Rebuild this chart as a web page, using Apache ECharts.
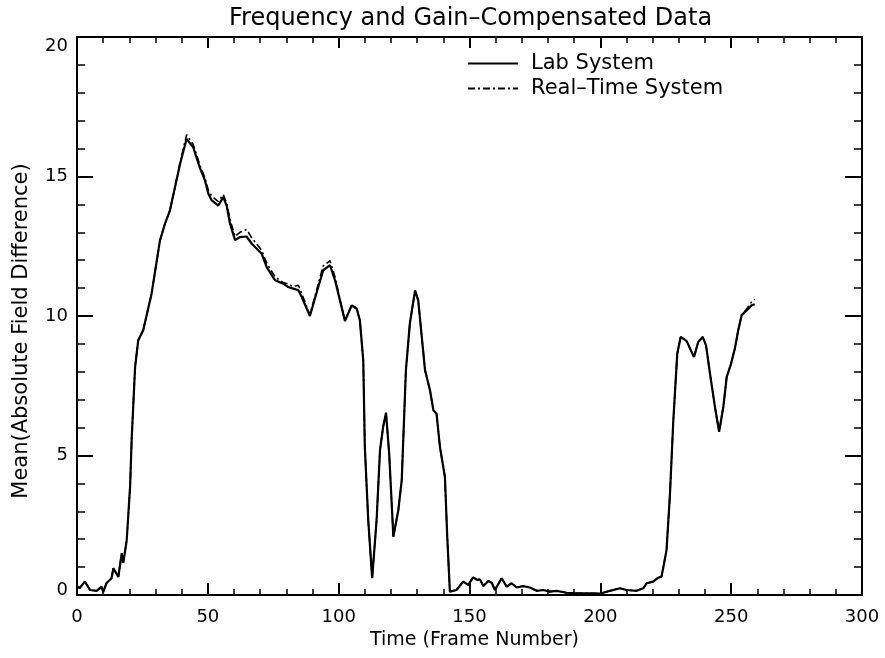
<!DOCTYPE html>
<html>
<head>
<meta charset="utf-8">
<script src="https://cdn.jsdelivr.net/npm/echarts@6/dist/echarts.min.js"></script>
<style>
html,body{margin:0;padding:0;background:#fff;}
#chart{width:885px;height:658px;}
</style>
</head>
<body>
<div id="chart"></div>
<script>
const titleText = 'Frequency and Gain–Compensated Data';
const xAxisName = 'Time (Frame Number)';
const yAxisName = 'Mean(Absolute Field Difference)';
const seriesNames = ['Lab System', 'Real–Time System'];

const frames = [
0,1,3,5,7.5,9.4,10,11.3,13.2,13.9,15.8,17.1,17.7,19,20.3,20.9,22.2,23.4,25.3,28.5,
31.7,33.6,35.5,37.4,39.4,41.9,44.4,47,48.9,50.2,51.5,54,55.9,57.2,58.5,60.4,62.3,64.8,66.8,70.6,
72.5,75.7,78.8,80.7,82.7,84.6,85.9,89,92.2,94.1,96.7,98.6,100.5,102.4,105,106.9,108.1,109.4,110,111.3,
112.8,114.5,115.8,117,118.1,119.3,120.9,122.8,124.1,125.7,127.2,129.2,130.4,133,134.9,136.2,137.4,138.7,140.6,141.5,
142.5,145,147.6,149.5,151.4,153,154,155.3,157.2,158.5,159.7,162.3,164.2,166.1,168,170.5,173.1,175.7,178.2,180.7,
183.3,187.1,191,196,200,203.7,207.5,210,213.9,216.4,217.7,220.2,222.1,223.4,225.3,226.6,227.9,229.4,230.7,233,
234.3,235.8,237.4,239.1,240.4,241.9,243.8,245.4,247,248.3,249.8,251.4,252.7,254,255.9,257.8,259
];

const labSystem = [
0.3,0.25,0.48,0.18,0.15,0.3,0.1,0.43,0.6,0.96,0.65,1.5,1.15,1.97,3.9,5.6,8.17,9.13,9.49,10.8,
12.7,13.3,13.78,14.6,15.46,16.35,16.05,15.3,14.86,14.38,14.14,13.96,14.26,13.95,13.3,12.72,12.83,12.85,12.59,12.23,
11.75,11.28,11.16,11.04,10.98,10.92,10.68,10.0,11.04,11.64,11.82,11.28,10.56,9.82,10.38,10.26,9.85,8.41,5.3,2.69,
0.6,2.69,5.19,6.03,6.53,5.07,2.09,3.04,4.12,8.06,9.73,10.92,10.56,8.06,7.34,6.62,6.5,5.31,4.24,2.09,
0.12,0.18,0.48,0.36,0.63,0.54,0.56,0.32,0.5,0.44,0.18,0.6,0.3,0.42,0.27,0.32,0.27,0.15,0.18,0.12,
0.15,0.08,0.06,0.06,0.05,0.15,0.24,0.18,0.15,0.24,0.42,0.48,0.62,0.66,1.61,3.6,6.27,8.65,9.25,9.1,
8.83,8.53,9.07,9.25,8.95,7.94,6.74,5.85,6.74,7.82,8.24,8.83,9.49,10.03,10.2,10.38,10.42
];

const realTimeSystem = [
0.3,0.25,0.48,0.18,0.15,0.3,0.1,0.43,0.6,0.96,0.65,1.5,1.15,1.97,3.9,5.6,8.17,9.13,9.49,10.8,
12.7,13.3,13.78,14.6,15.5,16.5,16.15,15.4,14.95,14.5,14.3,14.1,14.35,14.05,13.45,12.85,13.0,13.1,12.8,12.35,
11.9,11.4,11.2,11.15,11.05,11.1,10.8,10.05,11.15,11.8,11.98,11.4,10.6,9.85,10.4,10.28,9.85,8.41,5.3,2.69,
0.6,2.69,5.19,6.03,6.53,5.07,2.09,3.04,4.12,8.06,9.73,10.92,10.56,8.06,7.34,6.62,6.5,5.31,4.24,2.09,
0.12,0.18,0.48,0.36,0.63,0.54,0.56,0.32,0.5,0.44,0.18,0.6,0.3,0.42,0.27,0.32,0.27,0.15,0.18,0.12,
0.15,0.08,0.06,0.06,0.05,0.15,0.24,0.18,0.15,0.24,0.42,0.48,0.62,0.66,1.61,3.6,6.27,8.65,9.25,9.1,
8.83,8.53,9.07,9.25,8.95,7.94,6.74,5.85,6.74,7.82,8.24,8.83,9.49,10.03,10.25,10.5,10.6
];

const xMin = 0, xMax = 300, xInterval = 50;
const yMin = 0, yMax = 20, yInterval = 5;

const FONT = 'DejaVu Sans';
const labData = frames.map((f, i) => [f, labSystem[i]]);
const rtData = frames.map((f, i) => [f, realTimeSystem[i]]);

const chart = echarts.init(document.getElementById('chart'), null, {renderer: 'canvas'});
const axisLine = {show: true, onZero: false, lineStyle: {color: '#000', width: 2}};
chart.setOption({
  backgroundColor: '#fff',
  animation: false,
  title: {
    text: titleText, left: 224, top: 2,
    textStyle: {fontFamily: FONT, fontSize: 24, fontWeight: 'normal', color: '#000'}
  },
  legend: {
    orient: 'vertical', left: 467, top: 53, padding: 0, itemWidth: 50, itemHeight: 14, itemGap: 4,
    data: seriesNames,
    itemStyle: {color: 'rgba(0,0,0,0)', borderWidth: 0, opacity: 0},
    textStyle: {fontFamily: FONT, fontSize: 21, color: '#000', padding: [0, 0, 0, 8]}
  },
  grid: {left: 77, right: 23, top: 37, bottom: 63, containLabel: false},
  xAxis: [{
    type: 'value', min: xMin, max: xMax, interval: xInterval, position: 'bottom',
    name: xAxisName, nameLocation: 'middle', nameGap: 25,
    nameTextStyle: {fontFamily: FONT, fontSize: 19, color: '#000', padding: [0, 0, 0, 10]},
    axisLine: axisLine,
    axisTick: {show: true, inside: true, length: 12, lineStyle: {color: '#000', width: 2}},
    minorTick: {show: true, splitNumber: 5, length: 6, lineStyle: {color: '#000', width: 1.5}},
    axisLabel: {fontFamily: FONT, fontSize: 18, color: '#000', margin: 13},
    splitLine: {show: false}
  }, {
    type: 'value', min: xMin, max: xMax, interval: xInterval, position: 'top',
    axisLine: axisLine,
    axisTick: {show: true, inside: true, length: 11, lineStyle: {color: '#000', width: 2}},
    minorTick: {show: true, splitNumber: 5, length: 6, lineStyle: {color: '#000', width: 1.5}},
    axisLabel: {show: false}, splitLine: {show: false}
  }],
  yAxis: [{
    type: 'value', min: yMin, max: yMax, interval: yInterval, position: 'left',
    name: yAxisName, nameLocation: 'middle', nameGap: 45, nameRotate: 90,
    nameTextStyle: {fontFamily: FONT, fontSize: 21, color: '#000', padding: [0, 30, 0, 0]},
    axisLine: axisLine,
    axisTick: {show: true, inside: true, length: 16, lineStyle: {color: '#000', width: 2}},
    minorTick: {show: true, splitNumber: 5, length: 8, lineStyle: {color: '#000', width: 1.5}},
    axisLabel: {
      fontFamily: FONT, fontSize: 18, color: '#000', margin: 9,
      formatter: v => v === yMax ? '{t|' + v + '}' : (v === yMin ? '{b|' + v + '}' : String(v)),
      rich: {
        t: {fontFamily: FONT, fontSize: 18, color: '#000', padding: [18, 0, 0, 0]},
        b: {fontFamily: FONT, fontSize: 18, color: '#000', padding: [0, 0, 10, 0]}
      }
    },
    splitLine: {show: false}
  }, {
    type: 'value', min: yMin, max: yMax, interval: yInterval, position: 'right',
    axisLine: axisLine,
    axisTick: {show: true, inside: true, length: 17, lineStyle: {color: '#000', width: 2}},
    minorTick: {show: true, splitNumber: 5, length: 8, lineStyle: {color: '#000', width: 1.5}},
    axisLabel: {show: false}, splitLine: {show: false}
  }],
  series: [{
    name: seriesNames[0], type: 'line', data: labData, xAxisIndex: 0, yAxisIndex: 0,
    showSymbol: false, symbol: 'none', smooth: false,
    lineStyle: {color: '#000', width: 2.2, type: 'solid'},
    itemStyle: {color: '#000'}, z: 3
  }, {
    name: seriesNames[1], type: 'line', data: rtData, xAxisIndex: 0, yAxisIndex: 0,
    showSymbol: false, symbol: 'none', smooth: false,
    lineStyle: {color: '#000', width: 1.6, type: [7, 3, 2, 3]},
    itemStyle: {color: '#000'}, z: 2
  }]
});
</script>
</body>
</html>
